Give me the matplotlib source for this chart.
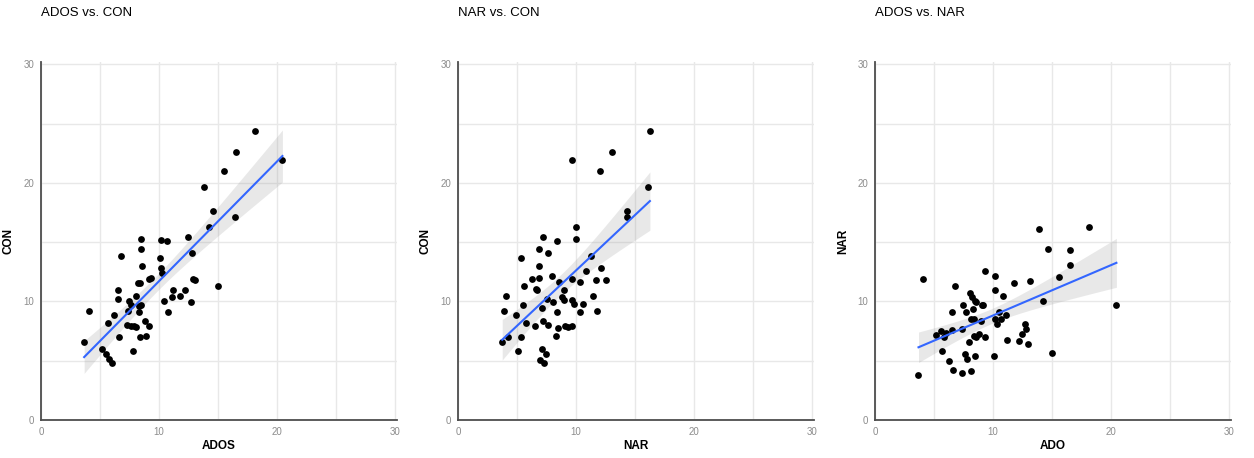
import numpy as np
import matplotlib.pyplot as plt

# panel 1: ADOS vs. CON
ados_1 = [3.66, 4.08, 5.18, 5.55, 5.69, 5.8, 6.03, 6.23, 6.5, 6.5, 6.59, 6.82, 7.32, 7.35,
          7.44, 7.61, 7.63, 7.8, 7.86, 8.03, 8.08, 8.2, 8.28, 8.34, 8.42, 8.42, 8.45, 8.45,
          8.51, 8.59, 8.82, 8.93, 9.13, 9.15, 9.32, 10.08, 10.14, 10.2, 10.25, 10.42, 10.65,
          10.76, 11.1, 11.18, 11.75, 12.23, 12.45, 12.7, 12.79, 12.93, 13.1, 13.86, 14.23,
          14.62, 15.01, 15.52, 16.48, 16.54, 18.14, 20.48]
con_1 = [6.59, 9.21, 6.0, 5.58, 8.2, 5.13, 4.82, 8.82, 10.99, 10.2, 7.01, 13.8, 8.0, 9.21,
         10.08, 9.72, 7.94, 5.83, 7.89, 10.48, 7.86, 11.58, 9.07, 9.58, 11.58, 7.01, 14.42, 15.3,
         9.72, 13.01, 8.39, 7.1, 7.92, 11.89, 11.94, 13.69, 12.79, 15.18, 12.37, 10.08, 15.1,
         9.1, 10.39, 10.99, 10.48, 10.99, 15.46, 9.97, 14.08, 11.92, 11.8, 19.69, 16.31,
         17.66, 11.3, 21.04, 17.1, 22.59, 24.42, 21.94]

# panel 2: NAR vs. CON
nar_2 = [3.75, 3.94, 4.08, 4.2, 4.93, 5.1, 5.38, 5.38, 5.52, 5.63, 5.8, 6.31, 6.56, 6.65, 6.7,
         6.87, 6.9, 6.9, 6.99, 7.1, 7.1, 7.18, 7.21, 7.27, 7.46, 7.52, 7.61, 7.63, 8.0, 8.03,
         8.31, 8.39, 8.42, 8.51, 8.59, 8.82, 9.01, 9.01, 9.1, 9.35, 9.63, 9.63, 9.69, 9.69,
         9.8, 9.97, 10.0, 10.39, 10.39, 10.62, 10.87, 11.27, 11.49, 11.69, 11.83, 12.08,
         12.11, 12.54, 13.04, 14.37, 14.37, 16.08, 16.28]
con_2 = [6.59, 9.21, 10.48, 6.99, 8.82, 5.8, 13.69, 6.99, 9.69, 11.3, 8.2, 11.92, 7.92, 11.01,
         10.99, 14.42, 12.0, 13.01, 5.1, 6.0, 9.46, 15.46, 8.37, 4.79, 5.58, 10.2, 14.08, 8.0,
         12.17, 9.94, 7.1, 9.07, 15.13, 7.77, 11.61, 10.39, 10.99, 10.14, 7.92, 7.83, 7.92,
         11.92, 10.11, 21.97, 9.75, 16.28, 15.3, 9.1, 11.61, 9.8, 12.59, 13.8, 10.48, 11.8,
         9.18, 21.04, 12.79, 11.8, 22.59, 17.1, 17.66, 19.69, 24.42]

# panel 3: ADOS vs. NAR
ados_3 = [3.69, 4.11, 5.21, 5.61, 5.72, 5.83, 6.0, 6.25, 6.54, 6.56, 6.62, 6.82, 7.35, 7.41,
          7.46, 7.63, 7.72, 7.83, 7.97, 8.08, 8.11, 8.17, 8.25, 8.31, 8.39, 8.39, 8.48, 8.48,
          8.56, 8.54, 8.82, 8.96, 9.1, 9.18, 9.3, 9.35, 10.11, 10.14, 10.14, 10.2, 10.31,
          10.48, 10.68, 10.82, 11.1, 11.21, 11.77, 12.25, 12.45, 12.73, 12.82, 12.99, 13.13,
          13.89, 14.23, 14.65, 15.01, 15.58, 16.51, 16.56, 18.17, 20.48]
nar_3 = [3.8, 11.86, 7.13, 7.52, 5.83, 7.01, 7.3, 4.99, 9.07, 7.61, 4.23, 11.3, 7.66, 4.0, 9.69,
         5.58, 9.1, 5.18, 6.59, 10.68, 4.11, 8.56, 10.39, 9.35, 7.1, 8.56, 10.06, 5.41, 6.99,
         9.94, 7.24, 8.37, 9.69, 9.69, 12.59, 6.96, 5.44, 12.14, 10.93, 8.48, 8.06, 9.1, 8.51,
         10.42, 8.87, 6.76, 11.52, 6.68, 7.24, 8.06, 7.69, 6.37, 11.75, 16.11, 10.0, 14.42,
         5.69, 12.08, 14.37, 13.07, 16.31, 9.72]

panels = [
    ("ADOS vs. CON", "ADOS", "CON", ados_1, con_1),
    ("NAR vs. CON", "NAR", "CON", nar_2, con_2),
    ("ADOS vs. NAR", "ADO", "NAR", ados_3, nar_3),
]
lefts = [41 / 1254, 458 / 1254, 875 / 1254]

plt.rcParams['font.family'] = ['Liberation Sans', 'DejaVu Sans']
fig = plt.figure(figsize=(12.54, 4.58), dpi=100)

for left, (title, xlab, ylab, xv, yv) in zip(lefts, panels):
    ax = fig.add_axes([left, 38 / 458, 356 / 1254, 358 / 458])
    x = np.array(xv)
    y = np.array(yv)

    # linear fit with 95% confidence band
    b, a = np.polyfit(x, y, 1)
    n = len(x)
    resid = y - (a + b * x)
    s = np.sqrt(np.sum(resid**2) / (n - 2))
    xs = np.linspace(x.min(), x.max(), 100)
    se = s * np.sqrt(1 / n + (xs - x.mean())**2 / np.sum((x - x.mean())**2))
    fit = a + b * xs
    ax.fill_between(xs, fit - 2.0 * se, fit + 2.0 * se, color="#999999", alpha=0.22,
                    linewidth=0, zorder=2)
    ax.plot(xs, fit, color="#3366FF", linewidth=1.5, zorder=4)
    ax.scatter(x, y, s=24, color="black", linewidths=0, zorder=3)

    ax.set_xlim(0, 30.2)
    ax.set_ylim(0, 30.2)
    ax.set_xticks([0, 10, 20, 30])
    ax.set_yticks([0, 10, 20, 30])
    ax.set_xticks([5, 15, 25], minor=True)
    ax.set_yticks([5, 15, 25], minor=True)
    ax.grid(True, which="both", color="#E8E8E8", linewidth=1.0)
    ax.set_axisbelow(True)
    ax.tick_params(which="both", length=0, labelsize=7, labelcolor="#8C8C8C", pad=5)
    for sp in ["top", "right"]:
        ax.spines[sp].set_visible(False)
    for sp in ["left", "bottom"]:
        ax.spines[sp].set_color("#4D4D4D")
        ax.spines[sp].set_linewidth(1.3)

    ax.set_xlabel(xlab, fontsize=8.5, fontweight="bold", labelpad=2)
    ax.set_ylabel(ylab, fontsize=8.5, fontweight="bold", labelpad=6)
    ax.text(0, 1.0 + 49 / 358, title, transform=ax.transAxes, fontsize=9.5,
            ha="left", va="center")

fig.savefig("out.png", dpi=100)
